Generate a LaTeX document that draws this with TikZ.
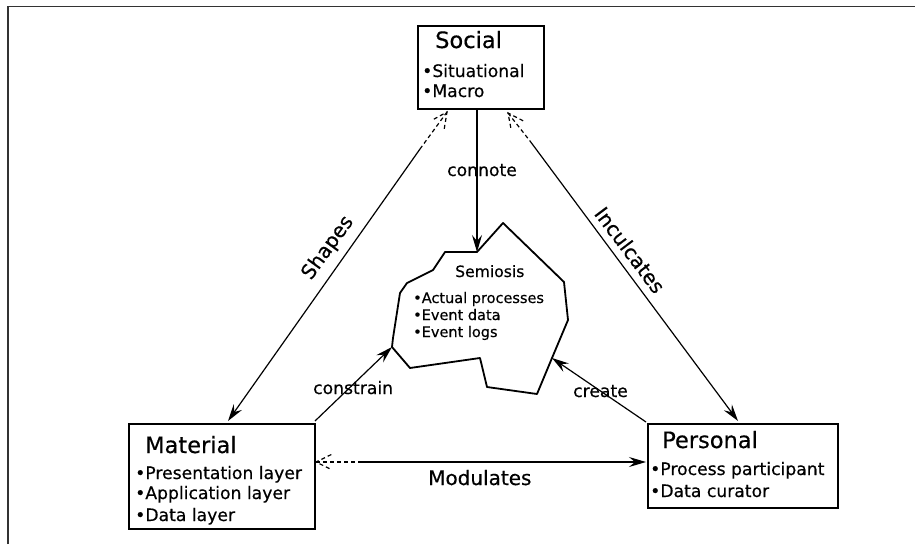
\documentclass[tikz,border=0pt]{standalone}
\usepackage{fontspec}
\setmainfont{DejaVu Sans}[FakeBold=0.45]
\usetikzlibrary{arrows.meta,calc}

\tikzset{
  box/.style={draw, line width=1.8pt, inner sep=0pt, anchor=north west},
  boxtitle/.style={anchor=base west, inner sep=0pt, font=\fontsize{22.5}{26}\selectfont},
  item/.style={anchor=base west, inner sep=0pt, font=\fontsize{17.2}{20}\selectfont},
  semtitle/.style={anchor=base west, inner sep=0pt, font=\fontsize{15.6}{18}\selectfont},
  semitem/.style={anchor=base west, inner sep=0pt, font=\fontsize{14.5}{17}\selectfont},
  lbl/.style={anchor=base west, inner sep=0pt, font=\fontsize{17.2}{20}\selectfont},
  biglbl/.style={inner sep=0pt, font=\fontsize{20}{24}\selectfont},
  link/.style={line width=1.2pt, -{Stealth[length=17pt,width=10pt,inset=6pt]}},
  weak/.style={line width=1.2pt, dash pattern=on 4pt off 3pt},
  frameline/.style={line width=1.6pt, draw=black!80},
}

\begin{document}
\begin{tikzpicture}[x=1pt,y=-1pt]
\useasboundingbox (0,0) rectangle (915,544);

% page frame (top and left rules)
\draw[frameline] (8,544) -- (8,6.5) -- (915,6.5);

% ---- the three boxes ----
\node[box, minimum width=126pt, minimum height=83pt] (social) at (417,25) {};
\node[boxtitle] (socialT) at (435,48) {Social};
\node[item] (social1) at (422,77) {•Situational};
\node[item] (social2) at (422,97) {•Macro};

\node[box, minimum width=186pt, minimum height=105pt] (material) at (128,423) {};
\node[boxtitle] (materialT) at (145,453) {Material};
\node[item] (material1) at (135,479) {•Presentation layer};
\node[item] (material2) at (135,499) {•Application layer};
\node[item] (material3) at (135,521) {•Data layer};

\node[box, minimum width=190pt, minimum height=84pt] (personal) at (647,423) {};
\node[boxtitle] (personalT) at (662,448) {Personal};
\node[item] (personal1) at (650,475) {•Process participant};
\node[item] (personal2) at (650,497) {•Data curator};

% ---- semiosis blob ----
\coordinate (semTop) at (477,252);
\coordinate (semLeft) at (392,347);
\coordinate (semRight) at (552,358);
\draw[line width=1.8pt, line join=round]
  (445,252) -- (semTop) -- (503,223) -- (564,282) -- (568,320) -- (semRight)
  -- (537,394) -- (487,387) -- (480,358) -- (410,368) -- (semLeft)
  -- (393,338) -- (400,293) -- (407,283) -- (433,270) -- cycle;
\node[semtitle] (semT) at (455,277) {Semiosis};
\node[semitem] (sem1) at (413,303) {•Actual processes};
\node[semitem] (sem2) at (413,320) {•Event data};
\node[semitem] (sem3) at (413,337) {•Event logs};

% ---- connectors ----
% connote
\coordinate (conA) at (477,108.9);
\draw[link] (conA) -- (semTop);
\node[lbl] (connote) at (447,176) {connote};

% shapes: social <--> material
\coordinate (shA) at (447,112);
\coordinate (shB) at (420,149);
\coordinate (shC) at (228,421);
\draw[weak] (shA) -- (shB);
\draw[link] (shB) -- (shC);
\draw[weak] ($(shA)!17pt!26:(shC)$) -- (shA) -- ($(shA)!17pt!-26:(shC)$);
\node[biglbl, rotate=54] (shapes) at (328,248) {Shapes};

% inculcates: social <--> personal
\coordinate (inA) at (508,113);
\coordinate (inB) at (530,141);
\coordinate (inC) at (738,421);
\draw[weak] (inA) -- (inB);
\draw[link] (inB) -- (inC);
\draw[weak] ($(inA)!17pt!26:(inC)$) -- (inA) -- ($(inA)!17pt!-26:(inC)$);
\node[biglbl, rotate=-53] (inculcates) at (630,250) {Inculcates};

% modulates: material <--> personal
\coordinate (moA) at (316,462);
\coordinate (moB) at (362,462);
\coordinate (moC) at (646,462);
\draw[weak] (moA) -- (moB);
\draw[link] (moB) -- (moC);
\draw[weak] ($(moA)!17pt!26:(moC)$) -- (moA) -- ($(moA)!17pt!-26:(moC)$);
\node[biglbl, anchor=base west] (modulates) at (428,485) {Modulates};

% constrain: material -> semiosis
\coordinate (csA) at (315,421);
\draw[link] (csA) -- (semLeft);
\node[lbl] (constrain) at (313,394) {constrain};

% create: personal -> semiosis
\coordinate (crA) at (646,422);
\draw[link] (crA) -- (semRight);
\node[lbl] (create) at (573,397) {create};

\end{tikzpicture}
\end{document}
